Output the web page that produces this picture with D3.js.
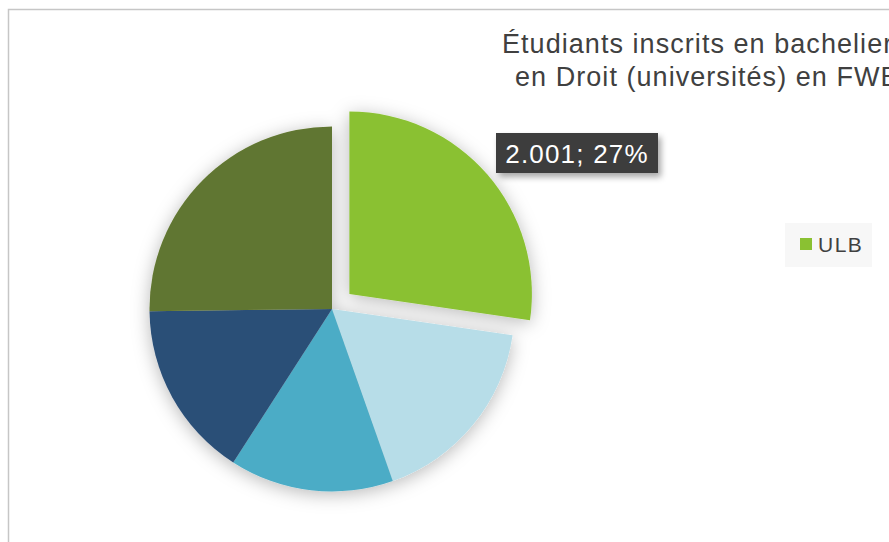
<!DOCTYPE html>
<html>
<head>
<meta charset="utf-8">
<script src="https://cdn.jsdelivr.net/npm/d3@7"></script>
<style>
  html, body { margin: 0; padding: 0; background: #fff; overflow: hidden; }
  svg { display: block; font-family: "Liberation Sans", Arial, sans-serif; }
</style>
</head>
<body>
<svg id="chart"></svg>
<script>
// data
const universities = ["ULB", "ULiège", "UNamur", "USL-B", "UCLouvain"];
const students = [2001, 1268, 1063, 1151, 1847];
const colors = ["#8ac132", "#b7dde8", "#4bacc6", "#2c4f77", "#617630"];
const titleLines = ["Étudiants inscrits en bachelier", "en Droit (universités) en FWB"];

const w = 889, h = 542;
const svg = d3.select("#chart").attr("width", w).attr("height", h);

const defs = svg.append("defs");
const sh = defs.append("filter").attr("id", "pieShadow")
  .attr("x", "-30%").attr("y", "-30%").attr("width", "160%").attr("height", "160%");
sh.append("feDropShadow").attr("dx", 0).attr("dy", 3).attr("stdDeviation", 9)
  .attr("flood-color", "#000").attr("flood-opacity", 0.28);
const lsh = defs.append("filter").attr("id", "lblShadow")
  .attr("x", "-20%").attr("y", "-40%").attr("width", "140%").attr("height", "180%");
lsh.append("feDropShadow").attr("dx", 3).attr("dy", 4).attr("stdDeviation", 3)
  .attr("flood-color", "#000").attr("flood-opacity", 0.35);

// chart area border
svg.append("rect")
  .attr("x", 8.5).attr("y", 9.5).attr("width", 1200).attr("height", 1200)
  .attr("fill", "none").attr("stroke", "#c6c6c6").attr("stroke-width", 1.5);

// title
svg.append("g").selectAll("text")
  .data(titleLines)
  .enter()
  .append("text")
  .attr("x", (d, i) => i === 0 ? 502 : 515)
  .attr("y", (d, i) => 53 + i * 33)
  .attr("font-size", 27)
  .attr("letter-spacing", 1.05)
  .attr("fill", "#404040")
  .text(d => d);

// pie
const cx = 332, cy = 309, r = 182.5, explode = 23;
const total = d3.sum(students);
const pie = d3.pie().sort(null).value(d => d.v);
const arcs = pie(universities.map((u, i) => ({ u, v: students[i], c: colors[i] })));
const arc = d3.arc().innerRadius(0).outerRadius(r);

const g = svg.append("g")
  .attr("transform", `translate(${cx},${cy})`)
  .attr("filter", "url(#pieShadow)");

g.selectAll("path")
  .data(arcs)
  .enter()
  .append("path")
  .attr("d", arc)
  .attr("fill", d => d.data.c)
  .attr("transform", (d, i) => {
    if (i !== 0) return null;
    const a = (d.startAngle + d.endAngle) / 2;
    return `translate(${explode * Math.sin(a)},${-explode * Math.cos(a)})`;
  });

// data label for ULB
const fr = d3.formatLocale({ decimal: ",", thousands: ".", grouping: [3], currency: ["", " €"] });
const lblText = fr.format(",")(students[0]) + "; " + Math.round(students[0] / total * 100) + "%";
const lbl = svg.append("g").attr("transform", "translate(496,133)");
lbl.append("rect")
  .attr("width", 162).attr("height", 40)
  .attr("fill", "#3c3c3c")
  .attr("filter", "url(#lblShadow)");
lbl.append("text")
  .attr("x", 81).attr("y", 30)
  .attr("text-anchor", "middle")
  .attr("font-size", 26)
  .attr("letter-spacing", 1.2)
  .attr("fill", "#fff")
  .text(lblText);

// legend (only ULB shown)
const leg = svg.append("g").attr("transform", "translate(785,223)");
leg.append("rect").attr("width", 87).attr("height", 44).attr("fill", "#f7f7f7");
leg.selectAll("g.item")
  .data(universities.slice(0, 1))
  .enter()
  .append("g").attr("class", "item")
  .each(function (d, i) {
    const it = d3.select(this);
    it.append("rect").attr("x", 15).attr("y", 15).attr("width", 12).attr("height", 12)
      .attr("fill", colors[i]);
    it.append("text").attr("x", 33).attr("y", 29)
      .attr("font-size", 21).attr("letter-spacing", 1.5).attr("fill", "#404040").text(d);
  });
</script>
</body>
</html>
